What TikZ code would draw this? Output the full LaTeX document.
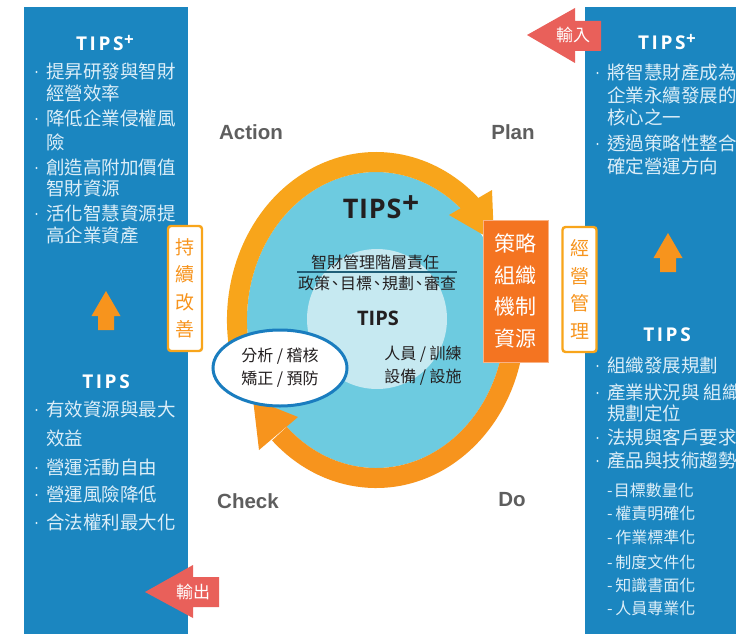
\documentclass[tikz,border=0pt]{standalone}
\usepackage{fontspec}
\newfontfamily\cjk{Noto Sans CJK TC}
\newfontfamily\lat{Open Sans}
\newfontfamily\arial{Liberation Sans}
\usetikzlibrary{shapes.geometric}
\definecolor{panelblue}{HTML}{1B86C0}
\definecolor{paneltext}{HTML}{DCEEF8}
\definecolor{ringA}{HTML}{F8A51B}
\definecolor{ringB}{HTML}{F7941D}
\definecolor{boxorange}{HTML}{F47421}
\definecolor{cyanbig}{HTML}{6DCBE0}
\definecolor{cyanlight}{HTML}{C6E9F1}
\definecolor{redarrow}{HTML}{E9605A}
\definecolor{labelgray}{HTML}{5E5E5E}
\definecolor{ovalblue}{HTML}{1A7DBF}
\definecolor{rulecol}{HTML}{1F5E78}
\definecolor{darktext}{HTML}{231F20}
\newcommand\tipsw{T\kern2.6pt I\kern2.6pt P\kern2.6pt S}
\newcommand\tplus{\kern0.5pt\raisebox{5pt}{\fontsize{17}{17}\selectfont +}}
\newcommand\bigplus{\kern0.5pt\raisebox{4.8pt}{\fontsize{30}{30}\selectfont +}}
\tikzset{
  paneltxt/.style={font=\cjk\fontsize{18.5}{22}\selectfont, text=paneltext, anchor=west, inner sep=0pt},
  dashtxt/.style={font=\cjk\fontsize{16}{20}\selectfont, text=paneltext, anchor=west, inner sep=0pt},
  bul/.style={fill=paneltext},
  headtxt/.style={font=\lat\bfseries\fontsize{19}{22}\selectfont, text=white, inner sep=0pt},
  pdca/.style={font=\arial\bfseries\fontsize{20.5}{24}\selectfont, text=labelgray, inner sep=0pt},
  ctr/.style={font=\cjk\fontsize{16}{23}\selectfont, text=darktext, inner sep=0pt, align=center},
  vbox/.style={draw=ringA, line width=2.4pt, fill=white, rounded corners=3pt, minimum width=34pt, minimum height=125pt, inner sep=0pt, text=ringB, font=\cjk\fontsize{19}{27.5}\selectfont, align=center},
  redtxt/.style={font=\cjk\fontsize{17}{20}\selectfont, text=white, inner sep=0pt},
  ring/.style={line width=20pt},
}
\begin{document}
\begin{tikzpicture}[x=1pt,y=-1pt]
\useasboundingbox (0,0) rectangle (736,634);
\fill[white] (0,0) rectangle (736,634);
% panels
\fill[panelblue] (24,7) rectangle (188,634);
\fill[panelblue] (585,7) rectangle (737,634);
% red arrows
\fill[redarrow] (145,592) -- (193,565) -- (193,577) -- (219,577) -- (219,607) -- (193,607) -- (193,618) -- cycle;
\node[redtxt] (outtxt) at (193,592) {輸出};
\fill[redarrow] (527,35) -- (575,8) -- (575,21) -- (601,21) -- (601,51) -- (575,51) -- (575,63) -- cycle;
\node[redtxt] (intxt) at (573,35) {輸入};
% up arrows
\fill[ringB] (106,291) -- (120.5,316) -- (114,316) -- (114,330) -- (98,330) -- (98,316) -- (91.5,316) -- cycle;
\fill[ringB] (668,233) -- (682.5,258) -- (676,258) -- (676,272) -- (660,272) -- (660,258) -- (653.5,258) -- cycle;
% bullets
\foreach \yy in {72,119,168,214,410,468,495,523} \fill[bul] (36.5,\yy) circle [radius=1.2];
\foreach \yy in {73,144,366,393,438,461} \fill[bul] (597.5,\yy) circle [radius=1.2];
% left panel texts
\node[headtxt] (lh1) at (105,43) {\tipsw\tplus};
\node[paneltxt] (l1) at (46,71) {提昇研發與智財};
\node[paneltxt] (l2) at (46,93) {經營效率};
\node[paneltxt] (l3) at (46,118) {降低企業侵權風};
\node[paneltxt] (l4) at (46,142) {險};
\node[paneltxt] (l5) at (46,167) {創造高附加價值};
\node[paneltxt] (l6) at (46,188) {智財資源};
\node[paneltxt] (l7) at (46,213) {活化智慧資源提};
\node[paneltxt] (l8) at (46,235) {高企業資產};
\node[headtxt] (lh2) at (106,382) {\tipsw};
\node[paneltxt] (m1) at (46,409) {有效資源與最大};
\node[paneltxt] (m2) at (46,438) {效益};
\node[paneltxt] (m3) at (46,467) {營運活動自由};
\node[paneltxt] (m4) at (46,494) {營運風險降低};
\node[paneltxt] (m5) at (46,522) {合法權利最大化};
% right panel texts
\node[headtxt] (rh1) at (667,42) {\tipsw\tplus};
\node[paneltxt] (r1) at (607,72) {將智慧財產成為};
\node[paneltxt] (r2) at (607,95) {企業永續發展的};
\node[paneltxt] (r3) at (607,117) {核心之一};
\node[paneltxt] (r4) at (607,143) {透過策略性整合};
\node[paneltxt] (r5) at (607,166) {確定營運方向};
\node[headtxt] (rh2) at (667,335) {\tipsw};
\node[paneltxt] (s1) at (607,365) {組織發展規劃};
\node[paneltxt] (s2) at (607,392) {產業狀況與 組織};
\node[paneltxt] (s3) at (607,413) {規劃定位};
\node[paneltxt] (s4) at (607,437) {法規與客戶要求};
\node[paneltxt] (s5) at (607,460) {產品與技術趨勢};
\node[dashtxt] (d1) at (607,490) {-\kern1pt目標數量化};
\node[dashtxt] (d2) at (607,513) {-\kern2.5pt權責明確化};
\node[dashtxt] (d3) at (607,537) {-\kern2.5pt作業標準化};
\node[dashtxt] (d4) at (607,562) {-\kern2.5pt制度文件化};
\node[dashtxt] (d5) at (607,585) {-\kern2.5pt知識書面化};
\node[dashtxt] (d6) at (607,608) {-\kern2.5pt人員專業化};
% PDCA labels
\node[pdca] (act) at (251,132) {Action};
\node[pdca] (plan) at (513,132) {Plan};
\node[pdca] (chk) at (248,501) {Check};
\node[pdca] (do) at (512,500) {Do};
% central ellipse
\fill[cyanbig] (376,320) ellipse [x radius=129, y radius=148];
\fill[cyanlight] (377,319) circle [radius=70];
% ring arcs
\draw[ringA, ring] ([shift={(160:139 and 158)}]376,320) arc[start angle=160, end angle=314, x radius=139, y radius=158];
\fill[ringA] (492,190) -- (494,241) -- (449,215) -- cycle;
\draw[ringB, ring] ([shift={(5:139 and 158)}]376,320) arc[start angle=5, end angle=134, x radius=139, y radius=158];
\fill[ringB] (298,417) -- (253,399) -- (259,450) -- cycle;
% boxes
\node[fill=boxorange, draw=boxorange!55!white, line width=0.8pt, minimum width=65pt, minimum height=142pt, inner sep=0pt, text=white, align=center, font=\cjk\fontsize{21}{31.7}\selectfont] (strat) at (515.5,291) {策略\\組織\\機制\\資源};
\node[vbox] (cont) at (185,288.5) {持\\續\\改\\善};
\node[vbox] (mgmt) at (579.5,289.5) {經\\營\\管\\理};
% oval
\node[ellipse, draw=ovalblue, line width=3pt, fill=white, minimum width=134pt, minimum height=76pt, inner sep=0pt, ctr] (oval) at (280,368) {分析 / 稽核\\矯正 / 預防};
% central texts
\node[font=\lat\bfseries\fontsize{27}{30}\selectfont, text=darktext, inner sep=0pt] (ctips) at (381,207) {T\kern0.8pt I\kern0.8pt P\kern0.8pt S\bigplus};
\node[ctr] (c1) at (375,262) {智財管理階層責任};
\draw[rulecol, line width=1.6pt] (297,272) -- (457,272);
\node[ctr] (c2) at (377,283) {政策\kern-3pt、\kern-3pt目標\kern-3pt、\kern-3pt規劃\kern-3pt、\kern-3pt審查};
\node[font=\lat\bfseries\fontsize{20}{24}\selectfont, text=darktext, inner sep=0pt] (ctips2) at (378,318) {TIPS};
\node[ctr] (c4) at (423,365.5) {人員 / 訓練\\設備 / 設施};
\end{tikzpicture}
\end{document}
